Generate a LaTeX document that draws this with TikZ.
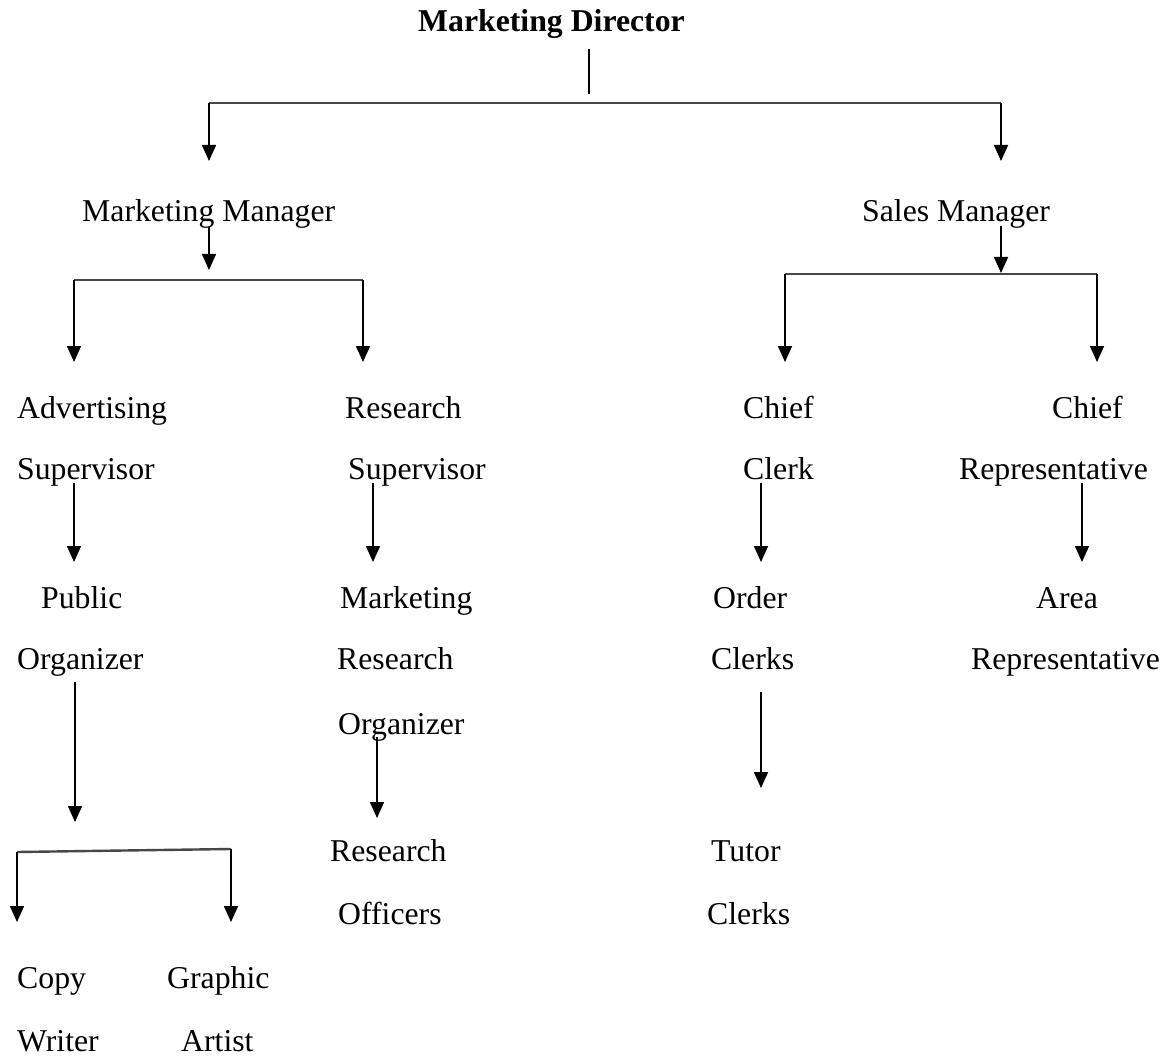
\documentclass[tikz,border=0pt]{standalone}
\usepackage{fontspec}
\setmainfont{Liberation Serif}
\usetikzlibrary{arrows.meta}
\begin{document}
\begin{tikzpicture}[x=1pt,y=-1pt,
  lbl/.style={anchor=base west,inner sep=0pt,font=\fontsize{31.75}{38}\selectfont},
  head/.style={lbl,font=\fontsize{31.75}{38}\selectfont\bfseries},
  arr/.style={line width=1.6pt,-{Triangle[length=16pt,width=14pt]}},
  bar/.style={line width=2.4pt,black!72},
  stem/.style={line width=1.3pt}]
\useasboundingbox[fill=white] (0,0) rectangle (1169,1059);

% ---- titles ----
\node[head] (dir) at (418,32) {Marketing Director};
\node[lbl] (mm) at (82,222) {Marketing Manager};
\node[lbl] (sm) at (862,222) {Sales Manager};

\node[lbl] (advA) at (17,418) {Advertising};
\node[lbl] (advB) at (17,479) {Supervisor};
\node[lbl] (resA) at (345,418) {Research};
\node[lbl] (resB) at (348,479) {Supervisor};
\node[lbl] (chfA) at (743,418) {Chief};
\node[lbl] (chfB) at (743,479) {Clerk};
\node[lbl] (crA) at (1052,418) {Chief};
\node[lbl] (crB) at (959,479) {Representative};

\node[lbl] (pubA) at (41,608) {Public};
\node[lbl] (pubB) at (17,669) {Organizer};
\node[lbl] (mroA) at (340,608) {Marketing};
\node[lbl] (mroB) at (337,669) {Research};
\node[lbl] (mroC) at (338,734) {Organizer};
\node[lbl] (ocA) at (713,608) {Order};
\node[lbl] (ocB) at (711,669) {Clerks};
\node[lbl] (arA) at (1036,608) {Area};
\node[lbl] (arB) at (971,669) {Representative};

\node[lbl] (roA) at (330,861) {Research};
\node[lbl] (roB) at (338,924) {Officers};
\node[lbl] (tcA) at (711,861) {Tutor};
\node[lbl] (tcB) at (707,924) {Clerks};

\node[lbl] (cwA) at (17,988) {Copy};
\node[lbl] (cwB) at (17,1051) {Writer};
\node[lbl] (gaA) at (167,988) {Graphic};
\node[lbl] (gaB) at (181,1051) {Artist};

% ---- connector points ----
\coordinate (dirS) at (589,49);
\coordinate (dirE) at (589,94);
\coordinate (topL) at (209,103);
\coordinate (topR) at (1001,103);
\coordinate (mmT) at (209,161);
\coordinate (smT) at (1001,161);

\coordinate (mmS) at (209,227);
\coordinate (mmE) at (209,270);
\coordinate (mbL) at (74,280);
\coordinate (mbR) at (363,280);
\coordinate (advT) at (74,362);
\coordinate (resT) at (363,362);

\coordinate (smS) at (1001,226);
\coordinate (smE) at (1001,273);
\coordinate (sbL) at (785,274);
\coordinate (sbR) at (1097,274);
\coordinate (chfT) at (785,362);
\coordinate (crT) at (1097,362);

\coordinate (advS) at (74,483);
\coordinate (pubT) at (74,562);
\coordinate (resS) at (373,483);
\coordinate (mroT) at (373,562);
\coordinate (chfS) at (761,483);
\coordinate (ocT) at (761,562);
\coordinate (crS) at (1082,483);
\coordinate (arT) at (1082,562);

\coordinate (pubS) at (75,682);
\coordinate (pubE) at (75,822);
\coordinate (pbL) at (17,852);
\coordinate (pbR) at (231,849);
\coordinate (cwT) at (17,922);
\coordinate (gaT) at (231,922);

\coordinate (mroS) at (377,737);
\coordinate (roT) at (377,818);
\coordinate (ocS) at (761,692);
\coordinate (tcT) at (761,788);

% ---- connectors ----
\draw[stem] (dirS) -- (dirE);
\draw[bar] (topL) -- (topR);
\draw[arr] (topL) -- (mmT);
\draw[arr] (topR) -- (smT);

\draw[arr] (mmS) -- (mmE);
\draw[bar] (mbL) -- (mbR);
\draw[arr] (mbL) -- (advT);
\draw[arr] (mbR) -- (resT);

\draw[arr] (smS) -- (smE);
\draw[bar] (sbL) -- (sbR);
\draw[arr] (sbL) -- (chfT);
\draw[arr] (sbR) -- (crT);

\draw[arr] (advS) -- (pubT);
\draw[arr] (resS) -- (mroT);
\draw[arr] (chfS) -- (ocT);
\draw[arr] (crS) -- (arT);

\draw[arr] (pubS) -- (pubE);
\draw[bar] (pbL) -- (pbR);
\draw[arr] (pbL) -- (cwT);
\draw[arr] (pbR) -- (gaT);

\draw[arr] (mroS) -- (roT);
\draw[arr] (ocS) -- (tcT);
\end{tikzpicture}
\end{document}
